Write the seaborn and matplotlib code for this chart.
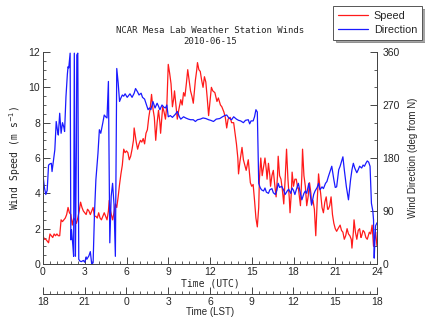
import numpy as np
import pandas as pd
import matplotlib
matplotlib.use("Agg")
import matplotlib.pyplot as plt
import seaborn as sns
from matplotlib.ticker import MultipleLocator

# ---------------- data ----------------
speed_time = [0.0,0.1,0.2,0.3,0.4,0.5,0.6,0.7,0.8,0.9,1.0,1.1,1.2,1.3,1.4,1.5,1.6,1.7,1.8,1.9,
              2.0,2.1,2.2,2.3,2.4,2.5,2.6,2.7,2.8,2.9,3.0,3.1,3.2,3.3,3.4,3.5,3.6,3.7,3.8,3.9,
              4.0,4.1,4.2,4.3,4.4,4.5,4.6,4.7,4.76,4.85,5.0,5.1,5.2,5.3,5.4,5.5,5.6,5.7,5.8,5.9,
              6.0,6.1,6.2,6.3,6.4,6.5,6.55,6.7,6.8,6.9,7.0,7.1,7.2,7.3,7.4,7.5,7.6,7.7,7.8,7.9,
              8.0,8.1,8.2,8.3,8.4,8.45,8.6,8.7,8.8,8.9,9.0,9.1,9.2,9.3,9.4,9.45,9.55,9.65,9.75,9.9,
              10.0,10.1,10.2,10.3,10.4,10.5,10.6,10.7,10.8,10.9,10.95,11.05,11.1,11.2,11.3,11.4,11.5,11.6,11.7,11.8,
              11.9,12.0,12.1,12.2,12.35,12.5,12.6,12.75,12.85,13.0,13.1,13.2,13.3,13.45,13.55,13.7,13.8,13.9,14.0,14.05,
              14.15,14.3,14.4,14.5,14.6,14.75,14.85,14.9,15.0,15.1,15.2,15.3,15.4,15.5,15.55,15.65,15.75,15.85,15.95,16.05,
              16.1,16.2,16.3,16.35,16.45,16.55,16.65,16.75,16.85,16.9,17.0,17.1,17.2,17.3,17.4,17.5,17.6,17.7,17.75,17.85,
              17.9,18.0,18.1,18.2,18.3,18.35,18.5,18.6,18.65,18.75,18.85,18.95,19.05,19.15,19.25,19.3,19.4,19.5,19.6,19.7,
              19.8,19.9,19.95,20.05,20.15,20.25,20.35,20.45,20.5,20.6,20.7,20.8,20.9,21.0,21.1,21.2,21.35,21.45,21.55,21.65,
              21.75,21.85,21.95,22.05,22.15,22.2,22.3,22.35,22.45,22.55,22.65,22.75,22.85,22.9,23.0,23.1,23.2,23.3,23.45,23.55,
              23.65,23.75,23.85,23.9,24.0]
speed = [1.6,1.4,1.4,1.3,1.2,1.7,1.6,1.5,1.7,1.6,1.7,1.6,1.6,2.5,2.4,2.5,2.6,2.8,3.2,2.9,
         2.8,2.2,2.6,2.5,2.3,2.6,3.0,3.5,3.2,3.0,2.9,2.8,3.1,3.0,2.8,3.0,3.2,2.7,2.7,2.6,
         2.9,2.6,2.5,2.7,2.9,2.7,2.5,3.0,3.6,3.0,2.5,2.9,3.4,3.2,3.8,4.5,5.1,5.6,6.5,6.3,
         6.4,6.3,5.9,6.1,6.5,7.0,7.7,6.9,6.5,6.8,7.0,6.9,7.1,6.8,7.4,7.6,8.3,8.8,9.6,8.8,
         8.3,7.0,8.0,8.7,8.0,7.4,8.9,8.6,8.2,9.0,11.3,10.8,10.2,8.9,9.4,9.8,9.0,8.2,8.7,9.3,
         9.0,9.7,9.5,10.2,11.0,10.4,9.8,9.5,9.1,10.0,10.4,11.0,11.4,11.0,10.9,10.4,10.0,10.6,10.3,9.4,
         8.4,9.2,10.0,9.8,9.7,9.2,9.4,9.0,8.9,8.6,8.3,7.7,8.2,8.3,8.0,8.0,7.4,6.8,6.0,5.1,
         5.8,6.6,5.9,5.6,5.3,5.9,5.0,4.6,4.4,4.5,3.6,2.6,2.1,3.2,4.8,6.0,5.0,5.5,6.0,5.3,
         4.8,5.7,5.0,4.4,5.0,5.3,4.5,3.8,5.0,6.1,5.0,4.8,4.2,3.4,4.8,6.5,4.8,3.7,2.9,4.1,
         5.2,4.4,4.8,4.8,4.3,4.3,3.3,5.0,6.5,5.0,4.4,3.3,3.8,4.6,4.0,3.4,3.6,3.1,1.6,3.5,
         5.1,4.3,4.0,3.2,2.9,3.5,3.8,3.1,3.1,3.3,3.8,2.8,2.3,2.0,1.85,2.0,2.2,1.9,1.8,1.4,
         1.6,2.0,1.7,1.6,1.4,0.9,1.8,2.5,1.8,1.4,1.9,2.0,1.5,1.6,1.9,1.8,1.5,1.4,1.8,1.7,
         2.2,1.0,1.5,1.8,1.0]

dir_time = [0.0,0.1,0.2,0.3,0.4,0.5,0.6,0.65,0.75,0.85,0.95,1.05,1.1,1.2,1.3,1.4,1.5,1.55,1.65,1.75,
            1.8,1.85,1.95,2.0,2.05,2.15,2.2,2.25,2.33,2.4,2.43,2.5,2.57,2.65,2.75,2.9,3.0,3.1,3.15,3.3,
            3.4,3.5,3.6,3.7,3.8,3.95,4.05,4.15,4.3,4.4,4.5,4.6,4.7,4.8,4.9,5.0,5.1,5.2,5.3,5.4,
            5.5,5.6,5.7,5.8,5.9,6.05,6.15,6.25,6.4,6.55,6.65,6.8,6.9,7.05,7.15,7.3,7.4,7.55,7.65,7.75,
            7.9,8.05,8.2,8.3,8.4,8.55,8.7,8.8,8.9,9.0,9.15,9.3,9.5,9.65,9.8,9.9,10.1,10.25,10.45,10.6,
            10.8,10.95,11.1,11.3,11.5,11.7,11.9,12.05,12.25,12.45,12.7,12.9,13.05,13.2,13.35,13.55,13.7,13.9,14.05,14.2,
            14.4,14.55,14.75,14.85,14.95,15.1,15.2,15.3,15.4,15.45,15.5,15.6,15.7,15.85,15.95,16.05,16.2,16.3,16.45,16.55,
            16.7,16.8,16.9,17.0,17.15,17.3,17.4,17.55,17.65,17.8,17.9,18.0,18.1,18.2,18.35,18.45,18.6,18.75,18.85,18.95,
            19.1,19.2,19.3,19.45,19.55,19.7,19.8,19.9,20.05,20.15,20.3,20.4,20.5,20.6,20.75,20.85,20.9,21.0,21.1,21.25,
            21.35,21.55,21.65,21.8,21.95,22.1,22.2,22.3,22.4,22.55,22.65,22.75,22.9,23.0,23.1,23.2,23.3,23.4,23.5,23.6,
            23.7,23.75,23.8,23.85,23.9,24.0]
direction = [151,130,118,125,168,170,171,157,175,194,242,225,219,256,222,240,232,225,284,322,
             335,333,358,41,58,30,13,358,13,200,355,358,8,5,4,6,3,12,8,14,
             21,0,2,86,143,188,228,222,240,253,250,248,310,36,115,137,102,13,332,308,
             276,282,287,285,289,283,286,289,283,290,298,292,287,290,283,280,273,262,265,262,
             276,265,273,268,262,270,266,265,270,250,252,249,254,259,250,246,250,248,246,245,
             245,242,245,246,248,247,245,244,242,246,247,250,252,253,248,245,250,246,244,243,
             240,244,245,238,243,243,250,262,258,200,137,130,126,124,129,122,120,126,128,121,
             118,125,137,130,132,125,118,124,127,120,129,125,118,126,137,125,109,120,124,120,
             137,118,100,118,124,130,137,126,131,128,137,140,148,155,166,150,143,130,131,160,
             166,182,160,131,109,143,160,171,163,155,160,166,163,168,166,171,175,173,166,103,
             90,75,10,40,65,70]

utc_ticks = [0, 3, 6, 9, 12, 15, 18, 21, 24]
lst_labels = ["18", "21", "0", "3", "6", "9", "12", "15", "18"]

df_speed = pd.DataFrame({"time": speed_time, "speed": speed})
df_dir = pd.DataFrame({"time": dir_time, "direction": direction})

# ---------------- figure ----------------
sns.set_style("ticks")
plt.rcParams["font.family"] = ["Liberation Sans", "DejaVu Sans"]
plt.rcParams["xtick.direction"] = "in"
plt.rcParams["ytick.direction"] = "in"

W, H = 425, 322
fig = plt.figure(figsize=(W / 100, H / 100), dpi=100)
ax = fig.add_axes([43 / W, 1 - 264 / H, 334 / W, 212 / H])
ax2 = ax.twinx()

red = "#ff1a1a"
blue = "#1a1aff"
sns.lineplot(data=df_speed, x="time", y="speed", ax=ax, color=red, lw=0.9, label="Speed", legend=False)
sns.lineplot(data=df_dir, x="time", y="direction", ax=ax2, color=blue, lw=0.9, label="Direction", legend=False)

ax.set_xlim(0, 24)
ax.set_ylim(0, 12)
ax2.set_ylim(0, 360)

tick_fs = 7.5
mono = "DejaVu Sans Mono"

ax.xaxis.set_major_locator(MultipleLocator(3))
ax.xaxis.set_minor_locator(MultipleLocator(0.5))
ax.yaxis.set_major_locator(MultipleLocator(2))
ax.yaxis.set_minor_locator(MultipleLocator(0.5))
ax2.yaxis.set_major_locator(MultipleLocator(90))
ax2.yaxis.set_minor_locator(MultipleLocator(30))
ax.set_xticks(utc_ticks)
ax.set_xticklabels([str(t) for t in utc_ticks])

for a in (ax, ax2):
    a.tick_params(which="major", direction="in", length=5, width=0.7, labelsize=tick_fs, pad=2, color="#444444")
    a.tick_params(which="minor", direction="in", length=2.5, width=0.6, color="#444444")
    for s in a.spines.values():
        s.set_linewidth(0.7)
        s.set_color("#444444")
    a.spines["top"].set_visible(False)
ax.tick_params(axis="x", which="both", top=False)
ax2.tick_params(axis="x", which="both", top=False, bottom=False)
ax2.tick_params(axis="y", which="major", pad=4)

ax.set_xlabel("Time (UTC)", fontsize=7, family=mono, labelpad=1)
ax.set_ylabel("Wind Speed (m s$^{-1}$)", fontsize=7, family=mono, labelpad=4)
ax2.set_ylabel("Wind Direction (deg from N)", fontsize=7, labelpad=6)

# LST axis below
sec = ax.secondary_xaxis((264 - 294) / 212)
sec.set_xticks(utc_ticks)
sec.set_xticklabels(lst_labels)
sec.xaxis.set_minor_locator(MultipleLocator(0.5))
sec.tick_params(which="major", direction="in", length=5, width=0.7, labelsize=tick_fs, pad=2, color="#444444")
sec.tick_params(which="minor", direction="in", length=2.5, width=0.6, color="#444444")
sec.spines["bottom"].set_linewidth(0.7)
sec.spines["bottom"].set_color("#444444")
sec.set_xlabel("Time (LST)", fontsize=7, labelpad=0)

fig.text(210 / W, 1 - 36 / H, "NCAR Mesa Lab Weather Station Winds\n2010-06-15",
         ha="center", va="center", fontsize=6.5, family=mono, linespacing=1.25)

h1, l1 = ax.get_legend_handles_labels()
h2, l2 = ax2.get_legend_handles_labels()
leg = fig.legend(h1 + h2, l1 + l2, loc="upper right", bbox_to_anchor=(422 / W, 1 - 6 / H),
                 fontsize=7.8, frameon=True, fancybox=False, shadow=True, handlelength=2.8,
                 borderpad=0.45, labelspacing=0.35, handletextpad=0.5, borderaxespad=0)
leg.get_frame().set_edgecolor("#555555")
leg.get_frame().set_linewidth(0.7)

fig.savefig("out.png", dpi=100)
